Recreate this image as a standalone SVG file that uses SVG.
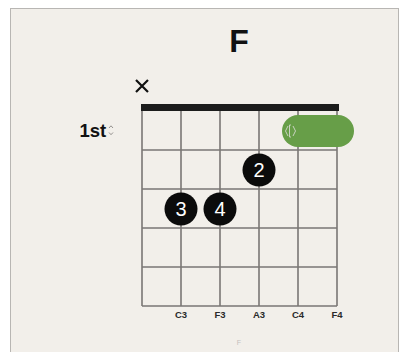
<svg xmlns="http://www.w3.org/2000/svg" width="400" height="352" viewBox="0 0 400 352">
<style>
.grid{stroke:#7a7775;stroke-width:1.6;fill:none}
.dot{fill:#0b0b0b}
.dottxt{fill:#ffffff;font-family:"Liberation Sans",Arial,sans-serif;font-size:20px;text-anchor:middle}
.lbl{fill:#2a2a2a;font-family:"Liberation Sans",Arial,sans-serif;font-size:9.5px;font-weight:bold;text-anchor:middle}
</style>
<rect x="0" y="0" width="400" height="352" fill="#ffffff"/>
<rect x="10.5" y="8.5" width="388" height="350" fill="#f2efea" stroke="#b8b6b3" stroke-width="1"/>
<g id="title"><text x="239" y="52" font-family="Liberation Sans,Arial,sans-serif" font-size="32" font-weight="bold" text-anchor="middle" fill="#111">F</text></g>
<g id="mute"><path d="M136,80 L148,92 M148,80 L136,92" stroke="#111" stroke-width="2.2" fill="none"/></g>
<g id="position"><text x="79.5" y="137" font-family="Liberation Sans,Arial,sans-serif" font-size="18.5" font-weight="bold" fill="#111">1st</text>
<path d="M109,128 L111,125.8 L113,128 M109,132.5 L111,134.7 L113,132.5" stroke="#8a8784" stroke-width="0.9" fill="none"/></g>
<g id="fretboard">
<rect x="141" y="104" width="198" height="7" fill="#1c1c1c"/>
<path class="grid" d="M142,111 V306 M181,111 V306 M220,111 V306 M259,111 V306 M298,111 V306 M337,111 V306 M142,150 H337 M142,189 H337 M142,228 H337 M142,267 H337 M142,306 H337"/>
</g>
<g id="barre"><rect x="282" y="115" width="72" height="32" rx="16" fill="#679e48"/>
<path d="M288,126 L285.5,131 L288,136 M291,125 H289.5 V137 H291 M293,126 L295.5,131 L293,136" stroke="#c9d2c0" stroke-width="1" fill="none"/></g>
<g id="finger2"><circle class="dot" cx="259" cy="170" r="16.5"/><text class="dottxt" x="259" y="177">2</text></g>
<g id="finger3"><circle class="dot" cx="181" cy="209" r="16.5"/><text class="dottxt" x="181" y="216">3</text></g>
<g id="finger4"><circle class="dot" cx="220" cy="209" r="16.5"/><text class="dottxt" x="220" y="216">4</text></g>
<g id="labels">
<text class="lbl" x="181" y="318">C3</text>
<text class="lbl" x="220" y="318">F3</text>
<text class="lbl" x="259" y="318">A3</text>
<text class="lbl" x="298" y="318">C4</text>
<text class="lbl" x="337" y="318">F4</text>
</g>
<g id="caption"><text x="239" y="345" font-family="Liberation Sans,Arial,sans-serif" font-size="7" text-anchor="middle" fill="#c4c1bd">F</text></g>
</svg>
